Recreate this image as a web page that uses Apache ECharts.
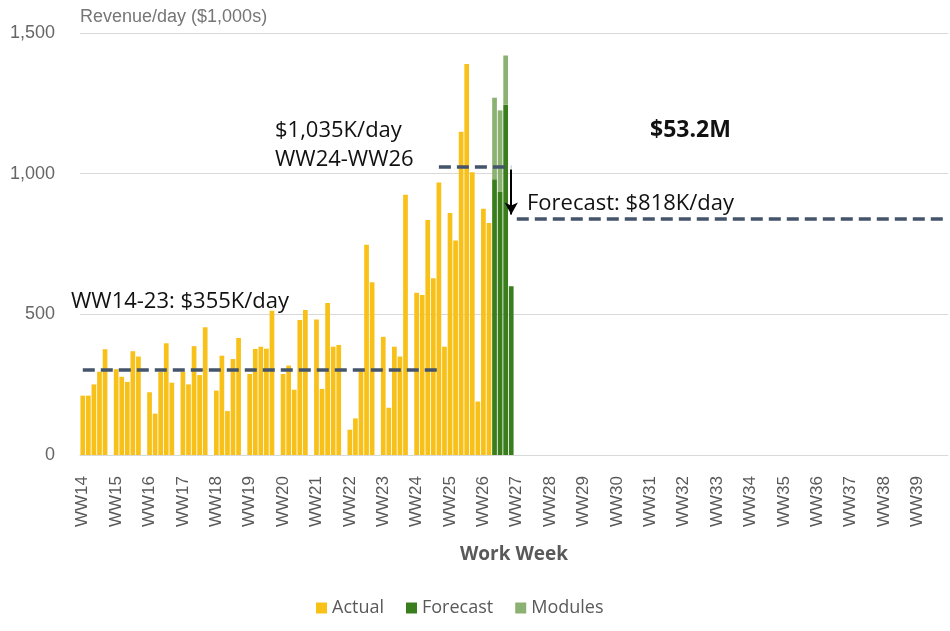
<!DOCTYPE html>
<html>
<head>
<meta charset="utf-8">
<script src="https://cdn.jsdelivr.net/npm/echarts@6/dist/echarts.min.js"></script>
<style>
  html, body { margin: 0; padding: 0; background: #fff; }
  #chart { width: 950px; height: 631px; }
</style>
</head>
<body>
<div id="chart"></div>
<script>
// week labels on the x axis, six day slots per week (Mon-Sat)
var weeks = ['WW14','WW15','WW16','WW17','WW18','WW19','WW20','WW21','WW22','WW23','WW24','WW25','WW26',
             'WW27','WW28','WW29','WW30','WW31','WW32','WW33','WW34','WW35','WW36','WW37','WW38','WW39'];
var workDays = ['Mon','Tue','Wed','Thu','Fri','Sat'];

// actual revenue per day ($1,000s), one row per week
var actual = [
  [211, 211, 251, 296, 376, null],   // WW14
  [305, 278, 260, 369, 350, null],   // WW15
  [223, 147, 296, 397, 257, null],   // WW16
  [296, 251, 387, 284, 454, null],   // WW17
  [229, 353, 156, 341, 416, null],   // WW18
  [288, 377, 385, 378, 513, null],   // WW19
  [288, 318, 232, 480, 515, null],   // WW20
  [482, 235, 540, 385, 391, null],   // WW21
  [90, 130, 300, 747, 614, null],    // WW22
  [420, 168, 385, 350, 925, null],   // WW23
  [577, 569, 835, 628, 969, 385],    // WW24
  [860, 762, 1149, 1390, 1005, 190], // WW25
  [875, 825, null, null, null, null] // WW26
];
var forecastWeek = 'WW26';
var forecastDays = [null, null, 980, 935, 1245, 600];
var modulesDays  = [null, null, 290, 290, 175, null];

// levels of the dashed reference lines
var avgPast = 302, avgRecent = 1024, avgForecast = 840;
var arrowFrom = 1015, arrowTo = 855;

var yTicks = [0, 500, 1000, 1500];

var cats = [];
weeks.forEach(function (w) { workDays.forEach(function (d) { cats.push(w + ' ' + d); }); });

function flat(fn) {
  return cats.map(function (c, i) {
    return fn(weeks[Math.floor(i / 6)], Math.floor(i / 6), i % 6);
  });
}
var actualData = flat(function (w, wi, d) { return actual[wi] ? actual[wi][d] : null; });
var forecastData = flat(function (w, wi, d) { return w === forecastWeek ? forecastDays[d] : null; });
var modulesData = flat(function (w, wi, d) { return w === forecastWeek ? modulesDays[d] : null; });

function idx(name) { return cats.indexOf(name); }

var dash = { color: '#44546A', width: 3.5, type: [12, 6] };

var chart = echarts.init(document.getElementById('chart'));
var option = {
  animation: false,
  grid: { left: 80, right: 2, top: 33, bottom: 176, containLabel: false },
  legend: {
    left: 311, top: 594,
    icon: 'rect', itemWidth: 11, itemHeight: 11, itemGap: 22,
    textStyle: { fontFamily: 'Open Sans', fontSize: 18, color: '#595959' },
    data: ['Actual', 'Forecast', 'Modules']
  },
  xAxis: {
    type: 'category',
    data: cats,
    name: 'Work Week',
    nameLocation: 'middle',
    nameGap: 90,
    nameTextStyle: { fontFamily: 'Open Sans', fontWeight: 'bold', fontSize: 19, color: '#595959' },
    axisLine: { lineStyle: { color: '#d9d9d9' } },
    axisTick: { show: false },
    axisLabel: {
      interval: function (i) { return i % 6 === 0; },
      formatter: function (v) { return v.split(' ')[0]; },
      rotate: 90,
      margin: 21,
      fontFamily: 'Liberation Sans',
      fontSize: 17,
      color: '#595959'
    }
  },
  yAxis: {
    type: 'value',
    min: yTicks[0], max: yTicks[yTicks.length - 1], interval: 500,
    name: 'Revenue/day ($1,000s)',
    nameGap: 7,
    nameTextStyle: { fontFamily: 'Liberation Sans', fontSize: 18, color: '#767676', align: 'left' },
    axisLine: { show: false },
    axisTick: { show: false },
    splitLine: { lineStyle: { color: '#d9d9d9' } },
    axisLabel: { margin: 25, fontFamily: 'Liberation Sans', fontSize: 18, color: '#666' }
  },
  series: [
    {
      name: 'Actual', type: 'bar', stack: 'rev', data: actualData,
      barCategoryGap: '15%',
      itemStyle: { color: '#F8C11A' },
      markLine: {
        silent: true, symbol: 'none', label: { show: false }, z: 10,
        data: [
          [{ coord: [idx('WW14 Mon'), avgPast], lineStyle: dash }, { coord: [idx('WW24 Fri'), avgPast] }],
          [{ coord: [idx('WW24 Fri'), avgRecent], lineStyle: dash }, { coord: [idx('WW26 Sat'), avgRecent] }],
          [{ coord: [idx('WW27 Mon'), avgForecast], lineStyle: dash }, { coord: [idx('WW39 Sat'), avgForecast] }],
          [{ coord: [idx('WW26 Sat'), arrowFrom], symbol: 'none',
             lineStyle: { color: '#000', width: 2, type: 'solid' } },
           { coord: [idx('WW26 Sat'), arrowTo], symbol: 'arrow', symbolSize: [10, 12] }]
        ]
      }
    },
    {
      name: 'Forecast', type: 'bar', stack: 'rev', data: forecastData,
      barCategoryGap: '15%',
      itemStyle: { color: '#3A7D1C' }
    },
    {
      name: 'Modules', type: 'bar', stack: 'rev', data: modulesData,
      barCategoryGap: '15%',
      itemStyle: { color: '#8CB273' }
    }
  ],
  graphic: [
    { type: 'text', x: 71, y: 302, style: { text: 'WW14-23: $355K/day', font: '22px "Open Sans"', fill: '#111', verticalAlign: 'middle' } },
    { type: 'text', x: 275, y: 131, style: { text: '$1,035K/day', font: '22px "Open Sans"', fill: '#111', verticalAlign: 'middle' } },
    { type: 'text', x: 275, y: 160, style: { text: 'WW24-WW26', font: '22px "Open Sans"', fill: '#111', verticalAlign: 'middle' } },
    { type: 'text', x: 527, y: 204, style: { text: 'Forecast: $818K/day', font: '22px "Open Sans"', fill: '#111', verticalAlign: 'middle' } },
    { type: 'text', x: 650, y: 130, style: { text: '$53.2M', font: 'bold 23px "Open Sans"', fill: '#111', verticalAlign: 'middle' } }
  ]
};
chart.setOption(option);
</script>
</body>
</html>
